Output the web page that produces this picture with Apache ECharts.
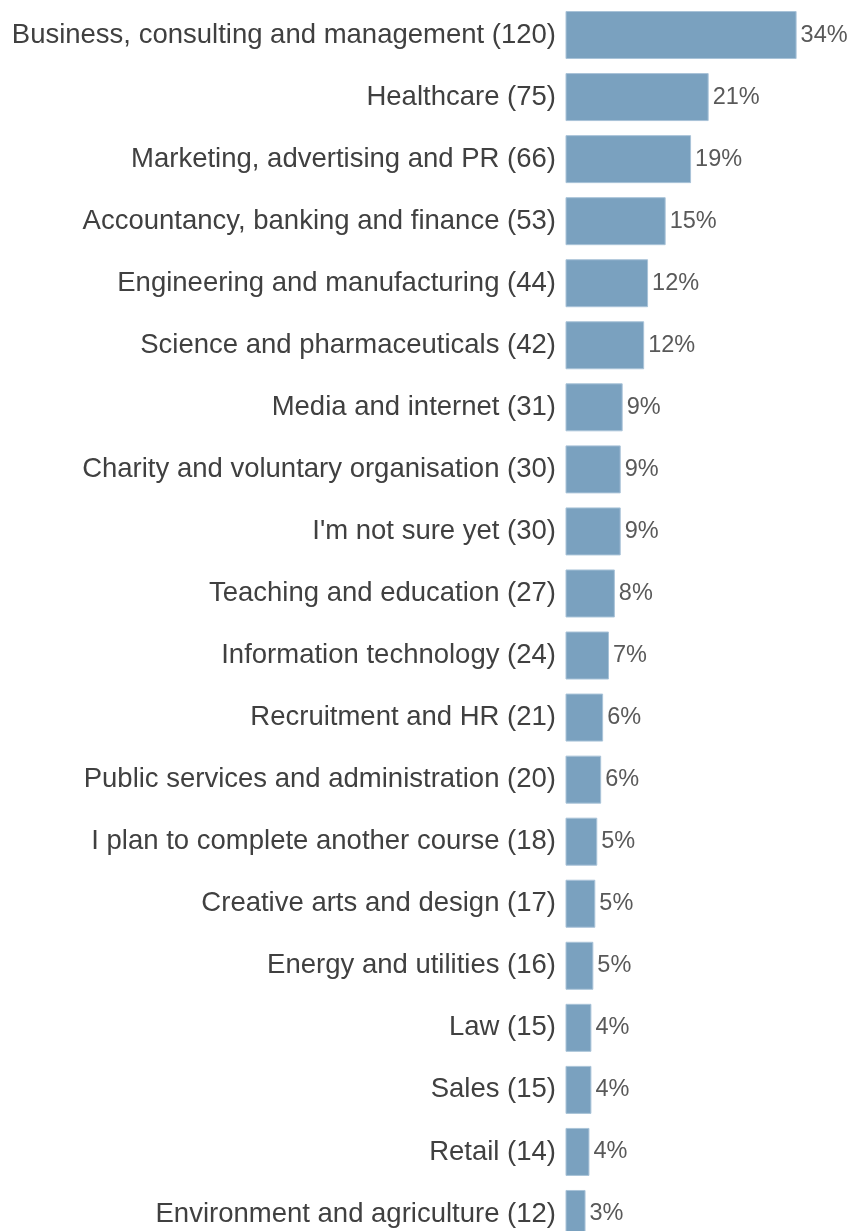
<!DOCTYPE html>
<html>
<head>
<meta charset="utf-8">
<script src="https://cdn.jsdelivr.net/npm/echarts@6/dist/echarts.min.js"></script>
<style>
html,body{margin:0;padding:0;background:#fff;}
#chart{width:850px;height:1231px;}
</style>
</head>
<body>
<div id="chart"></div>
<script>
const categories = [
  "Business, consulting and management (120)",
  "Healthcare (75)",
  "Marketing, advertising and PR (66)",
  "Accountancy, banking and finance (53)",
  "Engineering and manufacturing (44)",
  "Science and pharmaceuticals (42)",
  "Media and internet (31)",
  "Charity and voluntary organisation (30)",
  "I'm not sure yet (30)",
  "Teaching and education (27)",
  "Information technology (24)",
  "Recruitment and HR (21)",
  "Public services and administration (20)",
  "I plan to complete another course (18)",
  "Creative arts and design (17)",
  "Energy and utilities (16)",
  "Law (15)",
  "Sales (15)",
  "Retail (14)",
  "Environment and agriculture (12)"
];
const counts = [120, 75, 66, 53, 44, 42, 31, 30, 30, 27, 24, 21, 20, 18, 17, 16, 15, 15, 14, 12];
const percents = ["34%", "21%", "19%", "15%", "12%", "12%", "9%", "9%", "9%", "8%", "7%", "6%", "6%", "5%", "5%", "5%", "4%", "4%", "4%", "3%"];

const chart = echarts.init(document.getElementById('chart'), null, {renderer: 'canvas'});
chart.setOption({
  animation: false,
  backgroundColor: '#ffffff',
  grid: {left: 566, top: 4, width: 230.6, height: 1241, containLabel: false, outerBoundsMode: 'none'},
  xAxis: {
    type: 'value', min: 2, max: 120,
    show: false
  },
  yAxis: {
    type: 'category',
    data: categories,
    inverse: true,
    axisLine: {show: false},
    axisTick: {show: false},
    splitLine: {show: false},
    axisLabel: {
      color: '#404040',
      fontFamily: '"Liberation Sans", Arial, sans-serif',
      fontSize: 27.5,
      margin: 10
    }
  },
  series: [{
    type: 'bar',
    data: counts,
    barWidth: 48,
    itemStyle: {color: '#7aa1bf', borderColor: '#a9c3d8', borderWidth: 1},
    label: {
      show: true,
      position: 'right',
      distance: 4,
      color: '#595959',
      fontFamily: '"Liberation Sans", Arial, sans-serif',
      fontSize: 23.5,
      formatter: p => percents[p.dataIndex]
    }
  }]
});
</script>
</body>
</html>
